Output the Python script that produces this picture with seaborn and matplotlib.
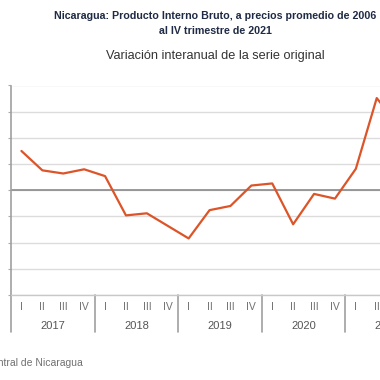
import matplotlib
matplotlib.use("Agg")
import matplotlib.pyplot as plt
import matplotlib.transforms as mtransforms
import seaborn as sns
import pandas as pd
import numpy as np

# ---- data ----
years = ["2017", "2018", "2019", "2020", "2021"]
quarters = ["I", "II", "III", "IV"]
variacion = [7.5, 3.8, 3.2, 4.0, 2.7,
             -4.8, -4.4, -6.8, -9.2,
             -3.8, -3.0, 0.9, 1.3,
             -6.5, -0.7, -1.6,
             4.1, 17.6, 12.5, 10.0]
y_ticks = [-20, -15, -10, -5, 0, 5, 10, 15, 20]

title = "Nicaragua: Producto Interno Bruto, a precios promedio de 2006\nal IV trimestre de 2021"
subtitle = "Variación interanual de la serie original"
source = "Fuente: Banco Central de Nicaragua"

sns.set_theme(style="white")
plt.rcParams["font.family"] = ["Liberation Sans", "DejaVu Sans"]

n = len(variacion)
df = pd.DataFrame({
    "pos": np.arange(n),
    "valor": variacion,
})

W, H = 380, 380
fig = plt.figure(figsize=(W / 100, H / 100), dpi=100)
left_px, top_px, bottom_px = 11, 85.5, 295
quarter_w = 20.9
right_px = left_px + quarter_w * n
ax = fig.add_axes([left_px / W, 1 - bottom_px / H,
                   (right_px - left_px) / W, (bottom_px - top_px) / H])

sns.lineplot(data=df, x="pos", y="valor", ax=ax, color="#DC5428",
             linewidth=1.6)

ax.set_xlim(-0.5, n - 0.5)
ax.set_ylim(y_ticks[0], y_ticks[-1])
ax.set_yticks(y_ticks)
ax.yaxis.grid(True, color="#dcdcdc", linewidth=1.0)
ax.axhline(0, color="#8a8a8a", linewidth=1.2, zorder=1)
ax.set_axisbelow(True)
for s in ["top", "right"]:
    ax.spines[s].set_visible(False)
ax.spines["left"].set_visible(False)
ax.spines["bottom"].set_color("#c8c8c8")
ax.spines["bottom"].set_linewidth(1.0)
ax.tick_params(axis="y", left=True, length=2.5, width=0.8, color="#aaaaaa",
               labelleft=False)
ax.set_xlabel("")
ax.set_ylabel("")

# quarter labels
qlabels = [quarters[i % 4] for i in range(n)]
ax.set_xticks(np.arange(n))
ax.set_xticklabels(qlabels, fontsize=7.5, color="#707070")
ax.tick_params(axis="x", bottom=False, length=0, pad=5)

# year labels and separators
trans = mtransforms.blended_transform_factory(ax.transData, ax.transAxes)
sep_bottom = -(332 - bottom_px) / (bottom_px - top_px)
for i, yr in enumerate(years):
    ax.text(i * 4 + 1.5, -(326 - bottom_px) / (bottom_px - top_px), yr,
            transform=trans, ha="center", va="center", fontsize=8,
            color="#555555")
for k in range(len(years) + 1):
    ytop = 1.0 if k == 0 else 0.0
    ax.plot([k * 4 - 0.5, k * 4 - 0.5], [sep_bottom, ytop], transform=trans,
            color="#a0a0a0", linewidth=1.2, clip_on=False)

# titles
fig.text(215 / W, 1 - 23.5 / H, title, ha="center", va="center",
         fontsize=7.7, fontweight="bold", color="#1f2a44", linespacing=1.55)
fig.text(215 / W, 1 - 56 / H, subtitle, ha="center", va="center",
         fontsize=9.2, color="#333333")
fig.text(83 / W, 1 - 363 / H, source, ha="right", va="center",
         fontsize=7.5, color="#707070")

fig.savefig("out.png", dpi=100)
